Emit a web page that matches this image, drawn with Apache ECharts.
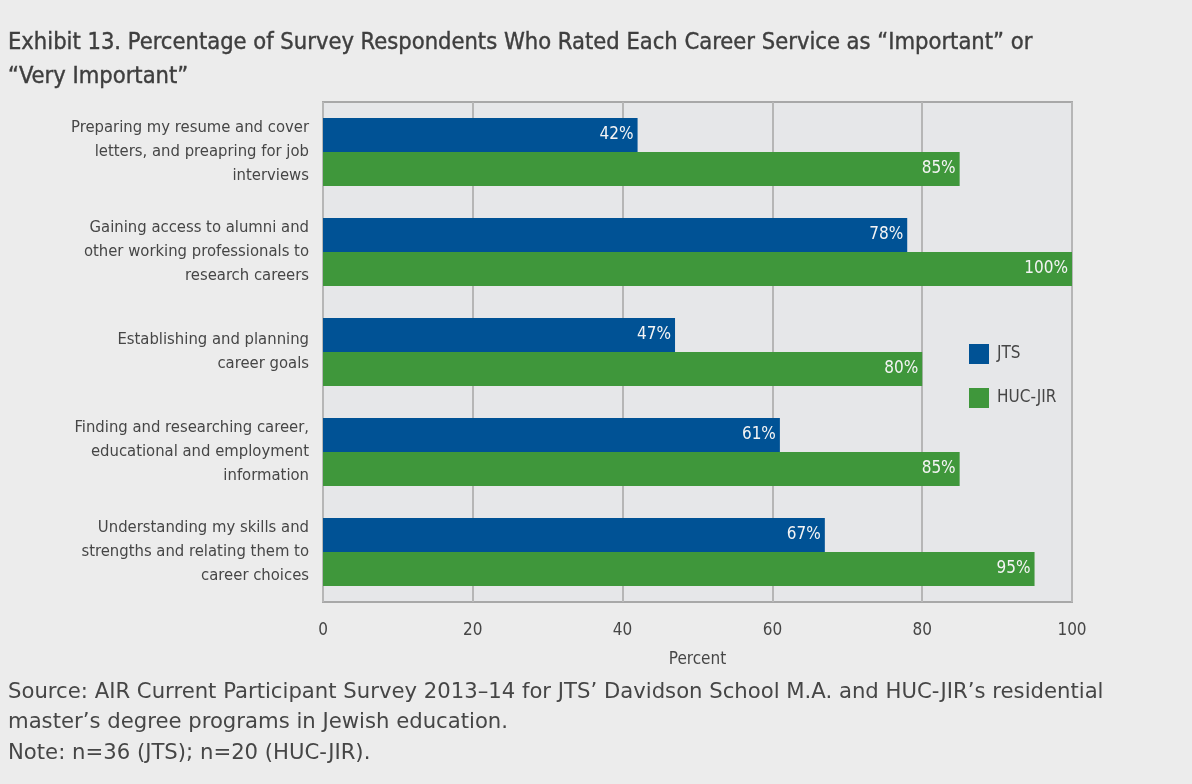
<!DOCTYPE html>
<html>
<head>
<meta charset="utf-8">
<script src="https://cdn.jsdelivr.net/npm/echarts@6/dist/echarts.min.js"></script>
<style>
html,body{margin:0;padding:0;background:#ececec;}
#c{width:1192px;height:784px;}
</style>
</head>
<body>
<div id="c"></div>
<script>
const categories = [
  "Preparing my resume and cover\nletters, and preapring for job\ninterviews",
  "Gaining access to alumni and\nother working professionals to\nresearch careers",
  "Establishing and planning\ncareer goals",
  "Finding and researching career,\neducational and employment\ninformation",
  "Understanding my skills and\nstrengths and relating them to\ncareer choices"
];
const jtsValues = [42, 78, 47, 61, 67];
const hucValues = [85, 100, 80, 85, 95];
const xTicks = [0, 20, 40, 60, 80, 100];
const seriesNames = ["JTS", "HUC-JIR"];

const NARROW = '"Liberation Sans Narrow", "DejaVu Sans Condensed", "Roboto", sans-serif';
const chart = echarts.init(document.getElementById('c'));
chart.setOption({
  backgroundColor: '#ececec',
  animation: false,
  title: {
    text: 'Exhibit 13. Percentage of Survey Respondents Who Rated Each Career Service as \u201cImportant\u201d or\n\u201cVery Important\u201d',
    left: 3, top: 21,
    textStyle: { fontFamily: NARROW, fontSize: 23.5, fontWeight: 'normal', color: '#3e3e3e', lineHeight: 34,
      textBorderColor: '#3e3e3e', textBorderWidth: 0.4 }
  },
  legend: {
    orient: 'vertical', left: 964, top: 339,
    itemWidth: 20, itemHeight: 20, itemGap: 24,
    icon: 'rect',
    data: seriesNames,
    textStyle: { fontFamily: NARROW, fontSize: 17, color: '#464646', padding: [0, 0, 0, 3] }
  },
  grid: {
    left: 323, right: 120, top: 102, bottom: 182,
    show: true, backgroundColor: '#e6e7e9', borderColor: '#a8a8a8', borderWidth: 2,
    containLabel: false
  },
  xAxis: {
    type: 'value', min: 0, max: 100, interval: 20,
    name: 'Percent', nameLocation: 'middle', nameGap: 49,
    nameTextStyle: { fontFamily: NARROW, fontSize: 17, color: '#464646' },
    axisLine: { show: false }, axisTick: { show: false },
    axisLabel: { fontFamily: NARROW, fontSize: 17, color: '#464646', margin: 20,
      formatter: v => xTicks.includes(v) ? String(v) : '' },
    splitLine: { lineStyle: { color: '#b6b6b6', width: 2 } }
  },
  yAxis: {
    type: 'category', data: categories, inverse: true,
    axisLine: { show: false }, axisTick: { show: false },
    axisLabel: { fontFamily: NARROW, fontSize: 16.5, color: '#464646', lineHeight: 24, margin: 14, align: 'right',
      padding: [4, 0, 0, 0] }
  },
  series: [
    { name: seriesNames[0], type: 'bar', data: jtsValues, barGap: '0%', barCategoryGap: '32%',
      itemStyle: { color: '#005295' },
      label: { show: true, position: 'insideRight', distance: 4, formatter: '{c}%', color: '#f4f4f4',
        fontFamily: NARROW, fontSize: 17 } },
    { name: seriesNames[1], type: 'bar', data: hucValues, barGap: '0%', barCategoryGap: '32%',
      itemStyle: { color: '#3f973b' },
      label: { show: true, position: 'insideRight', distance: 4, formatter: '{c}%', color: '#f4f4f4',
        fontFamily: NARROW, fontSize: 17 } }
  ],
  graphic: [
    { type: 'text', left: 8, top: 677,
      style: { text: 'Source: AIR Current Participant Survey 2013\u201314 for JTS\u2019 Davidson School M.A. and HUC-JIR\u2019s residential\nmaster\u2019s degree programs in Jewish education.\nNote: n=36 (JTS); n=20 (HUC-JIR).',
        font: '21.2px "DejaVu Sans", sans-serif', fill: '#464646', lineHeight: 30.5 } }
  ]
});
</script>
</body>
</html>
